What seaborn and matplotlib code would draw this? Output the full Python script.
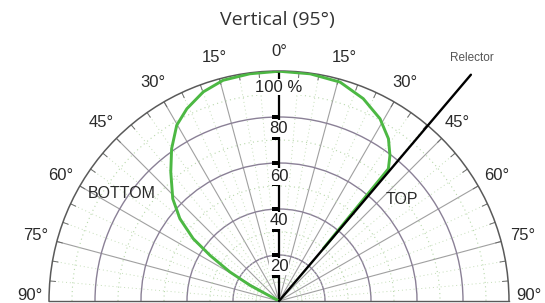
import numpy as np
import matplotlib
matplotlib.use("Agg")
import matplotlib.pyplot as plt
import seaborn as sns

# beam pattern: angle from vertical (deg, + = TOP side) and relative intensity (%)
beam_angle = [-62, -61.6, -59.4, -56.5, -54.0, -50.3, -46.1, -40.0, -35.2, -30.2,
              -25.6, -19.9, -14.2, -7.3, 0, 7.8, 15.6, 22.6, 29.0, 34.0,
              37.3, 39.6, 40.2, 40.2, 40.2]
beam_level = [0, 14.3, 24.8, 36.0, 46.1, 56.0, 64.1, 73.2, 81.0, 88.4,
              92.7, 96.7, 99.0, 99.6, 99.9, 99.7, 98.8, 95.3, 90.6, 85.1,
              79.6, 74.6, 60, 30, 0]

reflector_angle = 40.3
reflector_len = 129

ring_values = [20, 40, 60, 80, 100]
ring_labels = ["20", "40", "60", "80", "100 %"]
angle_ticks = [0, 15, 30, 45, 60, 75, 90]

sns.set_theme(style="white")
plt.rcParams["font.family"] = ["Liberation Sans", "DejaVu Sans"]

fig = plt.figure(figsize=(5.45, 3.03), dpi=100)
# half-disc polar axes: centre at (279, 301) px, radius 230 px
R = 230
ax = fig.add_axes([(279 - R) / 545, (2 - R / 2) / 303, 2 * R / 545, 2 * R / 303],
                  projection="polar")
ax.set_theta_zero_location("N")
ax.set_theta_direction(-1)
ax.set_thetamin(-90)
ax.set_thetamax(90)
ax.set_rlim(0, 100)
ax.set_aspect("auto")
ax.set_facecolor("white")

# grid
ax.set_thetagrids(np.arange(-75, 90, 15), labels=[""] * 11)
ax.set_rgrids([20, 40, 60, 80], labels=[""] * 4)
ax.xaxis.grid(True, color="#a0a0a0", lw=0.8)
ax.yaxis.grid(True, color="#8a8096", lw=1.0)
ax.spines["polar"].set_color("#5a5a5a")
ax.spines["polar"].set_linewidth(1.1)
for s in ["start", "end"]:
    ax.spines[s].set_color("#5a5a5a")
    ax.spines[s].set_linewidth(1.0)
ax.tick_params(axis="x", length=0)

# faint green dotted sub-grid
th = np.deg2rad(np.linspace(-90, 90, 200))
for r in [10, 30, 50, 70, 90]:
    ax.plot(th, np.full_like(th, r), color="#b8d8ab", lw=0.8, ls=(0, (1, 3)), zorder=1)
for a in np.arange(-85, 90, 5):
    if a % 15:
        ax.plot([np.deg2rad(a)] * 2, [8, 100], color="#c4ddb8", lw=0.7, ls=(0, (1, 3)), zorder=1)
for a in np.arange(-85, 90, 5):
    ax.plot([np.deg2rad(a)] * 2, [97.5, 100], color="#6a6a6a", lw=0.7, zorder=2)

# vertical scale with labels
ax.plot([0, 0], [0, 100], color="black", lw=1.6, zorder=4)
tick_mark = [(-1, 0), (0, 0)]
for rv in [11, 20, 31, 40, 51, 60, 71, 80, 100]:
    ax.plot([0], [rv], marker=tick_mark, ms=10, mew=1.5, color="black", zorder=4)
for lab, rpos in zip(ring_labels, [15, 35, 54, 75, 93]):
    ax.text(0, rpos, lab, ha="center", va="center",
            fontsize=12, color="#222222", zorder=6,
            bbox=dict(boxstyle="square,pad=0.05", fc="white", ec="none"))

# beam curve
sns.lineplot(x=np.deg2rad(beam_angle), y=beam_level, ax=ax, sort=False,
             color="#4cb843", lw=2.1, zorder=5)

# reflector line
ax.plot([np.deg2rad(reflector_angle)] * 2, [0, reflector_len], color="black",
        lw=1.7, clip_on=False, zorder=6)
ax.text(np.deg2rad(38.4), 134.7, "Relector", ha="center", va="center",
        fontsize=8.5, color="#555555")

# angle labels
for a in angle_ticks:
    sides = [0] if a == 0 else [-a, a]
    for s in sides:
        pos = s if abs(s) < 90 else np.sign(s) * 88.8
        r = 109.5 if abs(s) < 90 else 108.5
        if a == 0:
            r = 108.4
        ax.text(np.deg2rad(pos), r, f"{a}°", ha="center", va="center",
                fontsize=12, color="#2a2a2a")

ax.text(np.deg2rad(-55.6), 82.9, "BOTTOM", ha="center", va="center",
        fontsize=11.5, color="#2a2a2a", zorder=6)
ax.text(np.deg2rad(50.5), 69.1, "TOP", ha="center", va="center",
        fontsize=11.5, color="#2a2a2a", zorder=6)

fig.text(277 / 545, 1 - 20.5 / 303, "Vertical (95°)", ha="center", va="center",
         fontsize=14, color="#333333", family=["Open Sans", "DejaVu Sans"])

fig.savefig("out.png", dpi=100)
